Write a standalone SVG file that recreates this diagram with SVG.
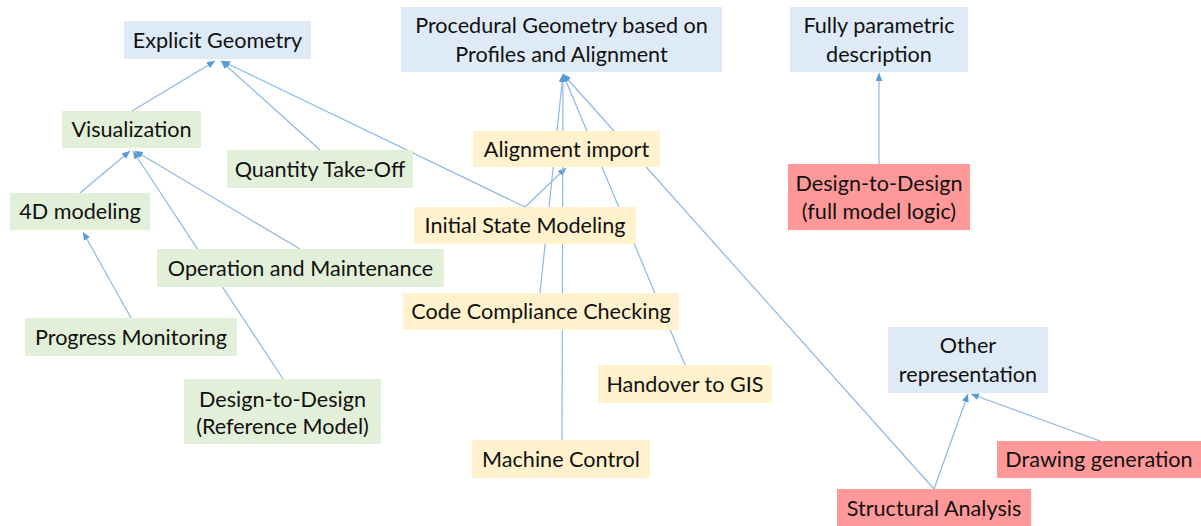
<svg xmlns="http://www.w3.org/2000/svg" width="1201" height="526" viewBox="0 0 1201 526">
<style>
.b{fill:#DEEBF7}.g{fill:#E2F0D9}.y{fill:#FFF2CC}.r{fill:#FF9999}
text{font-family:Lato,"Liberation Sans",sans-serif;font-size:21.6px;fill:#111;text-anchor:middle}
.c line{stroke:#8DB8E3;stroke-width:1.2;marker-end:url(#a)}
</style>
<defs>
<marker id="a" markerUnits="userSpaceOnUse" markerWidth="10" markerHeight="8" refX="8" refY="3.5" orient="auto"><path d="M0,0 L8,3.5 L0,7 z" fill="#5B9BD5"/></marker>
</defs>
<rect width="1201" height="526" fill="#fff"/>
<g class="c" id="connectors">
<line x1="132" y1="111" x2="215" y2="61"/>
<line x1="320" y1="150" x2="221" y2="61"/>
<line x1="525" y1="207" x2="222" y2="61"/>
<line x1="525" y1="207" x2="566" y2="168"/>
<line x1="80" y1="193" x2="130" y2="151"/>
<line x1="300" y1="249" x2="135" y2="151"/>
<line x1="283" y1="379" x2="133" y2="151"/>
<line x1="131" y1="318" x2="83" y2="232"/>
<line x1="540" y1="293" x2="563" y2="74"/>
<line x1="562" y1="440" x2="563" y2="74"/>
<line x1="685" y1="365" x2="563" y2="74"/>
<line x1="934" y1="489" x2="563" y2="74"/>
<line x1="879" y1="164" x2="879" y2="73"/>
<line x1="934" y1="489" x2="968" y2="394"/>
<line x1="1100" y1="441" x2="971" y2="394"/>
</g>
<g id="explicit"><rect class="b" x="124" y="21" width="187" height="38"/><text x="217.5" y="48">Explicit Geometry</text></g>
<g id="procedural"><rect class="b" x="401" y="7" width="321" height="65"/><text x="561.5" y="33">Procedural Geometry based on</text><text x="561.5" y="62">Profiles and Alignment</text></g>
<g id="parametric"><rect class="b" x="790" y="7" width="178" height="65"/><text x="879" y="33">Fully parametric</text><text x="879" y="62">description</text></g>
<g id="visualization"><rect class="g" x="62" y="111" width="139" height="37"/><text x="131.5" y="137">Visualization</text></g>
<g id="qto"><rect class="g" x="227" y="150" width="186" height="38"/><text x="320" y="177">Quantity Take-Off</text></g>
<g id="alignment"><rect class="y" x="473" y="131" width="187" height="36"/><text x="566.5" y="157">Alignment import</text></g>
<g id="d2dfull"><rect class="r" x="788" y="164" width="182" height="66"/><text x="879" y="191">Design-to-Design</text><text x="879" y="219">(full model logic)</text></g>
<g id="4d"><rect class="g" x="10" y="193" width="140" height="37"/><text x="80" y="219">4D modeling</text></g>
<g id="initial"><rect class="y" x="414" y="207" width="222" height="37"/><text x="525" y="233">Initial State Modeling</text></g>
<g id="om"><rect class="g" x="157" y="249" width="287" height="38"/><text x="300.5" y="276">Operation and Maintenance</text></g>
<g id="ccc"><rect class="y" x="403" y="293" width="276" height="37"/><text x="541" y="319">Code Compliance Checking</text></g>
<g id="progress"><rect class="g" x="25" y="318" width="212" height="38"/><text x="131" y="345">Progress Monitoring</text></g>
<g id="other"><rect class="b" x="888" y="327" width="160" height="66"/><text x="968" y="353">Other</text><text x="968" y="382">representation</text></g>
<g id="gis"><rect class="y" x="598" y="365" width="174" height="38"/><text x="685" y="392">Handover to GIS</text></g>
<g id="d2dref"><rect class="g" x="184" y="379" width="197" height="65"/><text x="282.5" y="407">Design-to-Design</text><text x="282.5" y="434">(Reference Model)</text></g>
<g id="machine"><rect class="y" x="472" y="440" width="178" height="38"/><text x="561" y="467">Machine Control</text></g>
<g id="drawing"><rect class="r" x="997" y="441" width="204" height="37"/><text x="1099" y="467">Drawing generation</text></g>
<g id="structural"><rect class="r" x="837" y="489" width="194" height="37"/><text x="934" y="516">Structural Analysis</text></g>
</svg>
